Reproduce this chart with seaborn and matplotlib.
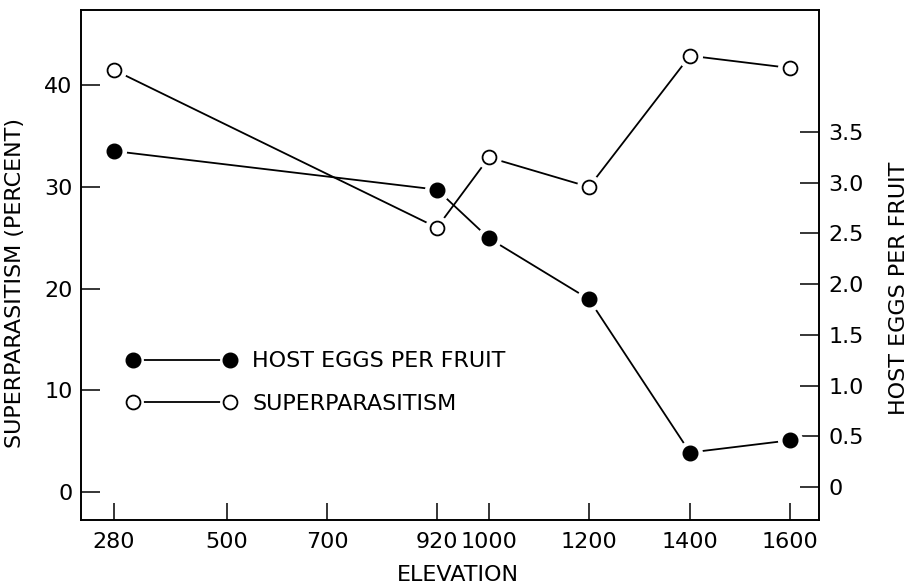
import matplotlib
matplotlib.use("Agg")
import matplotlib.pyplot as plt
from matplotlib.lines import Line2D
from matplotlib.legend_handler import HandlerTuple
import seaborn as sns
import numpy as np
import pandas as pd

# Elevation of each sampling site and the two measured series
elevation = [280, 920, 1000, 1200, 1400, 1600]
superparasitism_pct = [41.5, 26.0, 32.9, 30.0, 42.9, 41.7]
host_eggs_per_fruit = [3.31, 2.93, 2.45, 1.85, 0.34, 0.46]

elev_ticks = [280, 500, 700, 920, 1000, 1200, 1400, 1600]
pct_ticks = [0, 10, 20, 30, 40]
eggs_ticks = [0, 0.5, 1.0, 1.5, 2.0, 2.5, 3.0, 3.5]
eggs_tick_labels = ["0", "0.5", "1.0", "1.5", "2.0", "2.5", "3.0", "3.5"]

# the elevation axis is drawn with uneven spacing between its ticks
elev_tick_spacing = [0, 113, 213, 323, 375, 475, 576, 676]

df = pd.DataFrame({"elevation": elevation,
                   "superparasitism": superparasitism_pct,
                   "eggs": host_eggs_per_fruit})


def _piecewise(src, dst):
    src = np.asarray(src, float)
    dst = np.asarray(dst, float)
    s_lo = (dst[1] - dst[0]) / (src[1] - src[0])
    s_hi = (dst[-1] - dst[-2]) / (src[-1] - src[-2])

    def f(x):
        x = np.asarray(x, float)
        y = np.interp(x, src, dst)
        y = np.where(x < src[0], dst[0] + (x - src[0]) * s_lo, y)
        y = np.where(x > src[-1], dst[-1] + (x - src[-1]) * s_hi, y)
        return y
    return f


elev_fwd = _piecewise(elev_ticks, elev_tick_spacing)
elev_inv = _piecewise(elev_tick_spacing, elev_ticks)

sns.set_style("ticks")
plt.rcParams["font.family"] = ["DejaVu Sans"]
for k in ("text.color", "axes.labelcolor", "xtick.color", "ytick.color",
          "axes.edgecolor"):
    plt.rcParams[k] = "black"
FS = 16
LW = 1.3

fig = plt.figure(figsize=(9.16, 5.84), dpi=100)
ax = fig.add_axes([0.0884, 0.1096, 0.8057, 0.8733])
ax2 = ax.twinx()

ax.set_xscale("function", functions=(elev_fwd, elev_inv))
ax.set_xlim(215.7, 1658)
ax.set_ylim(-2.75, 47.4)
ax2.set_ylim(-0.325, 4.70)

# connecting lines
sns.lineplot(data=df, x="elevation", y="superparasitism", ax=ax,
             color="black", lw=LW, sort=False, zorder=2)
sns.lineplot(data=df, x="elevation", y="eggs", ax=ax2,
             color="black", lw=LW, sort=False, zorder=2)

# white halos around the points leave a small gap in the lines
halo = dict(marker="o", ls="none", ms=17, mfc="white", mec="white", zorder=3)
ax.plot(df["elevation"], df["superparasitism"], **halo)
ax2.plot(df["elevation"], df["eggs"], **halo)

open_pts = dict(marker="o", ls="none", ms=10, mfc="white", mec="black",
                mew=1.3, zorder=4)
filled_pts = dict(marker="o", ls="none", ms=10.5, mfc="black", mec="black",
                  zorder=4)
ax.plot(df["elevation"], df["superparasitism"], **open_pts)
ax2.plot(df["elevation"], df["eggs"], **filled_pts)

ax.set_zorder(1)
ax2.set_zorder(2)
ax2.patch.set_visible(False)

# ticks
ax.set_xticks(elev_ticks)
ax.set_xticklabels([str(v) for v in elev_ticks])
ax.xaxis.set_minor_locator(matplotlib.ticker.NullLocator())
ax.set_yticks(pct_ticks)
ax.set_yticklabels([str(v) for v in pct_ticks])
ax2.set_yticks(eggs_ticks)
ax2.set_yticklabels(eggs_tick_labels)

ax.tick_params(axis="x", direction="in", length=12, width=1.1, pad=9,
               labelsize=FS, top=False)
ax.tick_params(axis="y", direction="in", length=14, width=1.1, pad=6,
               labelsize=FS, right=False)
ax2.tick_params(axis="y", direction="in", length=14, width=1.1, pad=7,
                labelsize=FS)

for a in (ax, ax2):
    for s in a.spines.values():
        s.set_visible(True)
        s.set_linewidth(1.2)
        s.set_color("black")

ax.set_xlabel("ELEVATION", fontsize=FS)
ax.set_ylabel("SUPERPARASITISM (PERCENT)", fontsize=FS)
ax2.set_ylabel("HOST EGGS PER FRUIT", fontsize=FS, rotation=90)
ax.xaxis.set_label_coords(0.511, -0.088)
ax.yaxis.set_label_coords(-0.076, 0.465)
ax2.yaxis.set_label_coords(1.095, 0.455)
ax2.yaxis.label.set_verticalalignment("top")


# legend entries: line with a point at each end
def entry(filled):
    line = Line2D([], [], color="black", lw=LW)
    hal = Line2D([], [], ls="none", marker="o", ms=14, mfc="white", mec="white")
    pts = Line2D([], [], **(filled_pts if filled else open_pts))
    return (line, hal, pts)


leg = ax2.legend([entry(True), entry(False)],
                 ["HOST EGGS PER FRUIT", "SUPERPARASITISM"],
                 handler_map={tuple: HandlerTuple(ndivide=1, pad=0)},
                 numpoints=2, handlelength=4.95, handletextpad=0.7,
                 labelspacing=1.02, frameon=False, fontsize=FS,
                 loc="upper left", bbox_to_anchor=(0.0496, 0.348),
                 borderaxespad=0)

fig.savefig("out.png", dpi=100)
